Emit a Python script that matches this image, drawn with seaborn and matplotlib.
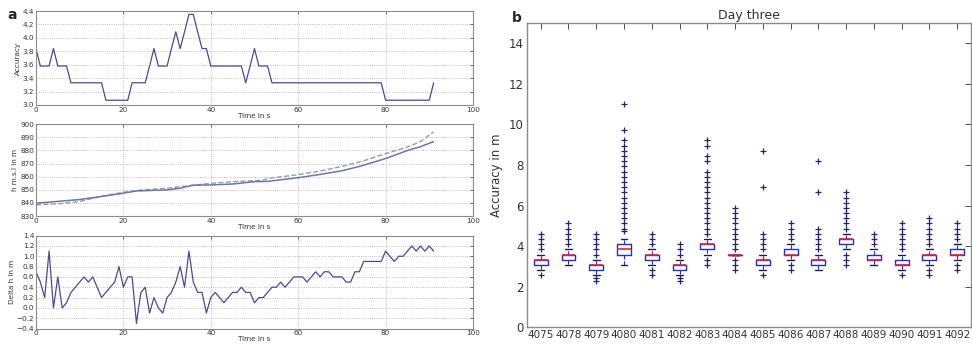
import matplotlib
matplotlib.use("Agg")
import matplotlib.pyplot as plt
import pandas as pd
import seaborn as sns

# ==========================
# Data
# ==========================
time_s = list(range(92))

accuracy = [
    3.84, 3.58, 3.58, 3.58, 3.84, 3.58, 3.58, 3.58, 3.33, 3.33,
    3.33, 3.33, 3.33, 3.33, 3.33, 3.33, 3.07, 3.07, 3.07, 3.07,
    3.07, 3.07, 3.33, 3.33, 3.33, 3.33, 3.58, 3.84, 3.58, 3.58,
    3.58, 3.84, 4.09, 3.84, 4.09, 4.35, 4.35, 4.09, 3.84, 3.84,
    3.58, 3.58, 3.58, 3.58, 3.58, 3.58, 3.58, 3.58, 3.33, 3.58,
    3.84, 3.58, 3.58, 3.58, 3.33, 3.33, 3.33, 3.33, 3.33, 3.33,
    3.33, 3.33, 3.33, 3.33, 3.33, 3.33, 3.33, 3.33, 3.33, 3.33,
    3.33, 3.33, 3.33, 3.33, 3.33, 3.33, 3.33, 3.33, 3.33, 3.33,
    3.07, 3.07, 3.07, 3.07, 3.07, 3.07, 3.07, 3.07, 3.07, 3.07,
    3.07, 3.33,
]

delta_h = [
    0.7, 0.5, 0.2, 1.1, 0.0, 0.6, 0.0, 0.1, 0.3, 0.4,
    0.5, 0.6, 0.5, 0.6, 0.4, 0.2, 0.3, 0.4, 0.5, 0.8,
    0.4, 0.6, 0.6, -0.3, 0.3, 0.4, -0.1, 0.2, 0.0, -0.1,
    0.2, 0.3, 0.5, 0.8, 0.4, 1.1, 0.5, 0.3, 0.3, -0.1,
    0.2, 0.3, 0.2, 0.1, 0.2, 0.3, 0.3, 0.4, 0.3, 0.3,
    0.1, 0.2, 0.2, 0.3, 0.4, 0.4, 0.5, 0.4, 0.5, 0.6,
    0.6, 0.6, 0.5, 0.6, 0.7, 0.6, 0.7, 0.7, 0.6, 0.6,
    0.6, 0.5, 0.5, 0.7, 0.7, 0.9, 0.9, 0.9, 0.9, 0.9,
    1.1, 1.0, 0.9, 1.0, 1.0, 1.1, 1.2, 1.1, 1.2, 1.1,
    1.2, 1.1,
]

# height above mean sea level, two sources
h_time = [0, 3, 10, 15, 20, 23, 30, 33, 36, 40, 45, 50, 53, 60, 65, 70, 74, 80, 85, 88, 91]
h_solid = [839.8, 840.6, 842.6, 844.9, 847.4, 849.1, 849.9, 851.2, 853.5, 853.7, 854.4,
           856.2, 856.4, 859.2, 861.7, 864.5, 867.8, 873.8, 879.9, 882.9, 886.7]
h_dash_time = [0, 5, 10, 15, 20, 24, 30, 35, 40, 45, 50, 52, 53, 60, 65, 70, 75, 80, 85, 88, 91]
h_dash = [838.6, 839.3, 841.1, 845.1, 848.1, 849.9, 851.2, 853.2, 854.9, 856.2, 857.0,
          857.2, 858.7, 861.5, 864.3, 867.8, 872.1, 877.6, 882.6, 886.7, 894.2]

# box plot, day three
sensors = ["4075", "4078", "4079", "4080", "4081", "4082", "4083", "4084",
           "4085", "4086", "4087", "4088", "4089", "4090", "4091", "4092"]
box_q1 = [3.07, 3.33, 2.81, 3.58, 3.33, 2.81, 3.84, 3.58,
          3.07, 3.58, 3.07, 4.09, 3.33, 3.07, 3.33, 3.58]
box_med = [3.33, 3.58, 3.07, 3.84, 3.58, 3.07, 4.09, 3.58,
           3.33, 3.58, 3.33, 4.35, 3.33, 3.07, 3.58, 3.58]
box_q3 = [3.33, 3.58, 3.07, 4.09, 3.58, 3.07, 4.09, 3.58,
          3.33, 3.84, 3.33, 4.35, 3.58, 3.33, 3.58, 3.84]
whisk_lo = [2.81, 3.07, 2.56, 3.07, 3.07, 2.56, 3.58, 3.58,
            2.81, 3.33, 2.81, 3.84, 3.07, 2.81, 3.07, 3.33]
whisk_hi = [3.58, 3.84, 3.33, 4.35, 3.84, 3.33, 4.35, 3.58,
            3.58, 4.09, 3.58, 4.60, 3.84, 3.58, 3.84, 4.09]
outliers = [
    [4.60, 4.35, 4.09, 3.84, 2.56],
    [5.12, 4.86, 4.60, 4.35, 4.09],
    [4.60, 4.35, 4.09, 3.84, 3.58, 2.43, 2.30],
    [11.0, 9.72, 9.21, 8.95, 8.70, 8.44, 8.19, 7.93, 7.67, 7.42, 7.16, 6.91,
     6.65, 6.39, 6.14, 5.88, 5.63, 5.37, 5.12, 4.86, 4.75],
    [4.60, 4.35, 4.09, 2.81, 2.56],
    [4.09, 3.84, 3.58, 2.43, 2.30],
    [9.21, 8.95, 8.44, 8.19, 7.67, 7.42, 7.16, 6.91, 6.65, 6.39, 6.14, 5.88,
     5.63, 5.37, 5.12, 4.86, 4.60, 3.33, 3.07],
    [5.88, 5.63, 5.37, 5.12, 4.86, 4.60, 4.35, 4.09, 3.84, 3.33, 3.07, 2.81],
    [8.70, 6.91, 4.60, 4.35, 4.09, 3.84, 2.56],
    [5.12, 4.86, 4.60, 4.35, 3.07, 2.81],
    [8.19, 6.65, 4.86, 4.60, 4.35, 4.09, 3.84],
    [6.65, 6.39, 6.14, 5.88, 5.63, 5.37, 5.12, 4.86, 3.58, 3.33, 3.07],
    [4.60, 4.35, 4.09],
    [5.12, 4.86, 4.60, 4.35, 4.09, 3.84, 2.56],
    [5.37, 5.12, 4.86, 4.60, 4.35, 4.09, 2.81, 2.56],
    [5.12, 4.86, 4.60, 4.35, 3.07, 2.81],
]

# ==========================
# Style
# ==========================
sns.set_style("white")
plt.rcParams["font.family"] = ["DejaVu Sans"]

line_col = "#4a4a98"
grid_kw = dict(color="#a8a8a8", linestyle=":", linewidth=0.6)
spine_col = "#8a8a8a"

fig = plt.figure(figsize=(9.72, 3.44), dpi=100)

ax1 = fig.add_axes([0.037, 0.695, 0.4496, 0.273])
ax2 = fig.add_axes([0.037, 0.372, 0.4496, 0.267])
ax3 = fig.add_axes([0.037, 0.045, 0.4496, 0.270])
axb = fig.add_axes([0.542, 0.049, 0.457, 0.884])


def style_small(ax, ylim, yticks, ylabel):
    ax.set_xlim(0, 100)
    ax.set_ylim(*ylim)
    ax.set_xticks(range(0, 101, 20))
    ax.set_yticks(yticks)
    ax.grid(True, **grid_kw)
    ax.tick_params(direction="in", top=True, right=True, length=2.5,
                   width=0.5, labelsize=5.2, pad=1.2, colors="#333333")
    ax.set_xlabel("Time in s", fontsize=5.2, labelpad=0, color="#333333")
    ax.set_ylabel(ylabel, fontsize=5.2, labelpad=1.5, color="#333333")
    for s in ax.spines.values():
        s.set_color(spine_col)
        s.set_linewidth(0.8)


# ---- a: accuracy over time
df_acc = pd.DataFrame({"t": time_s, "acc": accuracy})
sns.lineplot(data=df_acc, x="t", y="acc", ax=ax1, color=line_col, linewidth=0.9)
style_small(ax1, (3.0, 4.4), [3.0, 3.2, 3.4, 3.6, 3.8, 4.0, 4.2, 4.4], "Accuracy")

# ---- a: height above msl
df_h1 = pd.DataFrame({"t": h_time, "h": h_solid})
df_h2 = pd.DataFrame({"t": h_dash_time, "h": h_dash})
sns.lineplot(data=df_h2, x="t", y="h", ax=ax2, color="#93a393", linewidth=1.0,
             linestyle="--")
sns.lineplot(data=df_h1, x="t", y="h", ax=ax2, color="#6a78a8", linewidth=1.1)
style_small(ax2, (830, 900), range(830, 901, 10), "h m.s.l in m")

# ---- a: delta h
df_d = pd.DataFrame({"t": time_s, "d": delta_h})
sns.lineplot(data=df_d, x="t", y="d", ax=ax3, color=line_col, linewidth=0.9)
style_small(ax3, (-0.4, 1.4), [-0.4, -0.2, 0.0, 0.2, 0.4, 0.6, 0.8, 1.0, 1.2, 1.4],
            "Delta h in m")

# ---- b: box plots
stats = []
for i, name in enumerate(sensors):
    stats.append(dict(label=name, q1=box_q1[i], med=box_med[i], q3=box_q3[i],
                      whislo=whisk_lo[i], whishi=whisk_hi[i], fliers=outliers[i]))

axb.bxp(stats, widths=0.5,
        boxprops=dict(color="#2030d0", linewidth=1.0),
        medianprops=dict(color="#e0203a", linewidth=1.2),
        whiskerprops=dict(color="#2030d0", linewidth=0.8, linestyle="--"),
        capprops=dict(color="#202040", linewidth=1.0),
        flierprops=dict(marker="+", markeredgecolor="#25256a", markersize=5,
                        markeredgewidth=0.9, linestyle="none"))
axb.set_xlim(0.5, len(sensors) + 0.5)
axb.set_ylim(0, 15)
axb.set_yticks(range(0, 15, 2))
axb.tick_params(direction="in", top=True, right=True, length=4, width=0.6,
                colors="#333333", pad=2)
axb.tick_params(axis="x", labelsize=7.5)
axb.tick_params(axis="y", labelsize=8.5)
axb.set_ylabel("Accuracy in m", fontsize=8.5, labelpad=4, color="#333333")
axb.set_title("Day three", fontsize=9, pad=3, color="#333333")
for s in axb.spines.values():
    s.set_color(spine_col)
    s.set_linewidth(1.0)

# panel letters
fig.text(0.008, 0.945, "a", fontsize=10, fontweight="bold")
fig.text(0.527, 0.935, "b", fontsize=10, fontweight="bold")

fig.savefig("out.png", dpi=100)
